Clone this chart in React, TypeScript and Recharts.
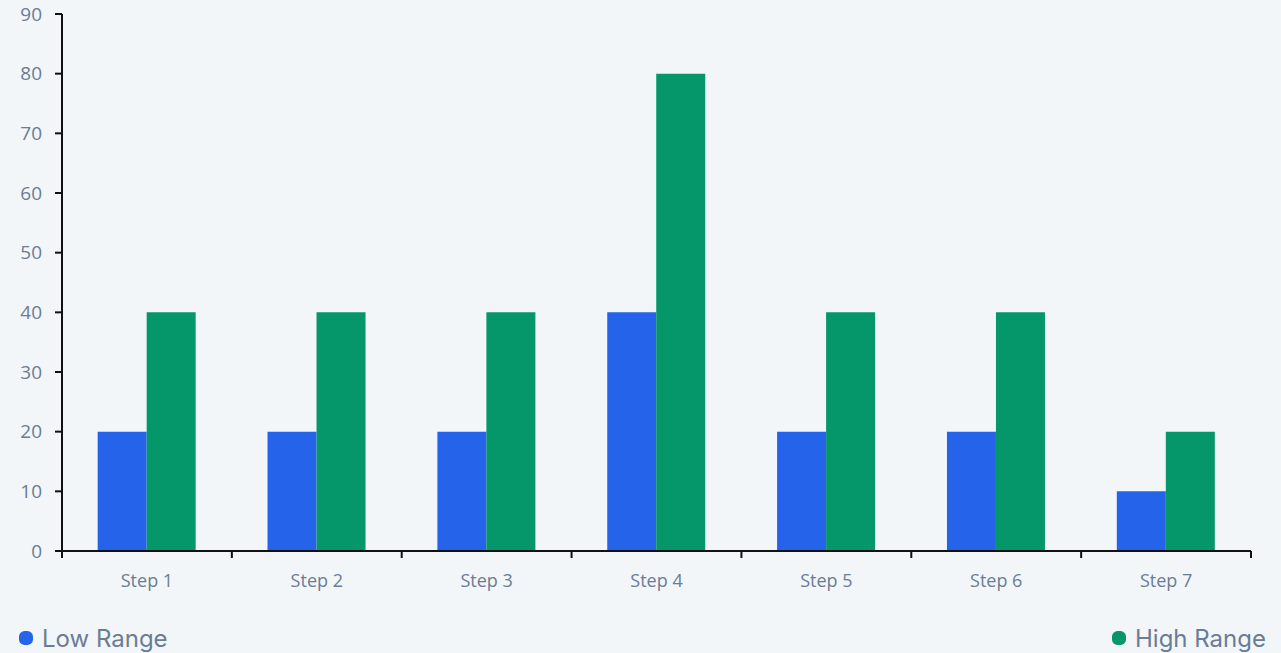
import { BarChart, Bar, XAxis, YAxis } from 'recharts'

const steps = ['Step 1', 'Step 2', 'Step 3', 'Step 4', 'Step 5', 'Step 6', 'Step 7']
const lowRange = [20, 20, 20, 40, 20, 20, 10]
const highRange = [40, 40, 40, 80, 40, 40, 20]
const yTicks = [0, 10, 20, 30, 40, 50, 60, 70, 80, 90]

const series = [
  { key: 'low', name: 'Low Range', color: '#2563eb' },
  { key: 'high', name: 'High Range', color: '#059669' },
]

const data = steps.map((step, i) => ({ step, low: lowRange[i], high: highRange[i] }))

const labelColor = '#6b7c95'
const axisColor = '#111111'
const TICK_SIZE = 7
const TICK_MARGIN = 8

// category axis: label in the middle of the band, tick marks on the band edges
function StepTick(props: any) {
  const { x, y, payload, index, visibleTicksCount } = props
  const half = payload?.offset ?? 0
  const lineTop = y - TICK_SIZE - TICK_MARGIN
  const isLast = index === visibleTicksCount - 1
  return (
    <g>
      <line x1={x - half} x2={x - half} y1={lineTop} y2={lineTop + TICK_SIZE} stroke={axisColor} strokeWidth={2} />
      {isLast && (
        <line x1={x + half} x2={x + half} y1={lineTop} y2={lineTop + TICK_SIZE} stroke={axisColor} strokeWidth={2} />
      )}
      <text x={x} y={y + 8} dy="0.71em" textAnchor="middle" fill={labelColor} fontSize={18} fontFamily="'Open Sans', sans-serif">
        {payload.value}
      </text>
    </g>
  )
}

export default function App() {
  return (
    <div style={{ position: 'absolute', left: 0, top: 0, width: 1281, height: 653, background: '#f2f6f8', overflow: 'hidden' }}>
      <BarChart
        width={1281}
        height={600}
        data={data}
        margin={{ top: 14, right: 30, left: 0, bottom: 0 }}
        barCategoryGap="21%"
        barGap={0}
      >
        <XAxis
          dataKey="step"
          height={49}
          tickLine={false}
          tickSize={TICK_SIZE}
          tickMargin={TICK_MARGIN}
          axisLine={{ stroke: axisColor, strokeWidth: 2 }}
          tick={<StepTick />}
          interval={0}
        />
        <YAxis
          width={62}
          domain={[0, 90]}
          ticks={yTicks}
          interval={0}
          tickSize={TICK_SIZE}
          tickMargin={13}
          axisLine={{ stroke: axisColor, strokeWidth: 2 }}
          tickLine={{ stroke: axisColor, strokeWidth: 2 }}
          tick={{ fill: labelColor, fontSize: 19, fontFamily: "'Open Sans', sans-serif" }}
        />
        {series.map((s) => (
          <Bar key={s.key} dataKey={s.key} name={s.name} fill={s.color} isAnimationActive={false} />
        ))}
      </BarChart>
      <div
        style={{
          display: 'flex',
          justifyContent: 'space-between',
          alignItems: 'center',
          height: 53,
          padding: '0 15px 0 19px',
          fontFamily: "Inter, sans-serif",
          fontSize: 24,
          color: labelColor,
        }}
      >
        {series.map((s) => (
          <div key={s.key} style={{ display: 'flex', alignItems: 'center', marginTop: 23 }}>
            <span style={{ width: 14, height: 14, borderRadius: '40%', background: s.color, marginRight: 9, display: 'inline-block' }} />
            <span>{s.name}</span>
          </div>
        ))}
      </div>
    </div>
  )
}
